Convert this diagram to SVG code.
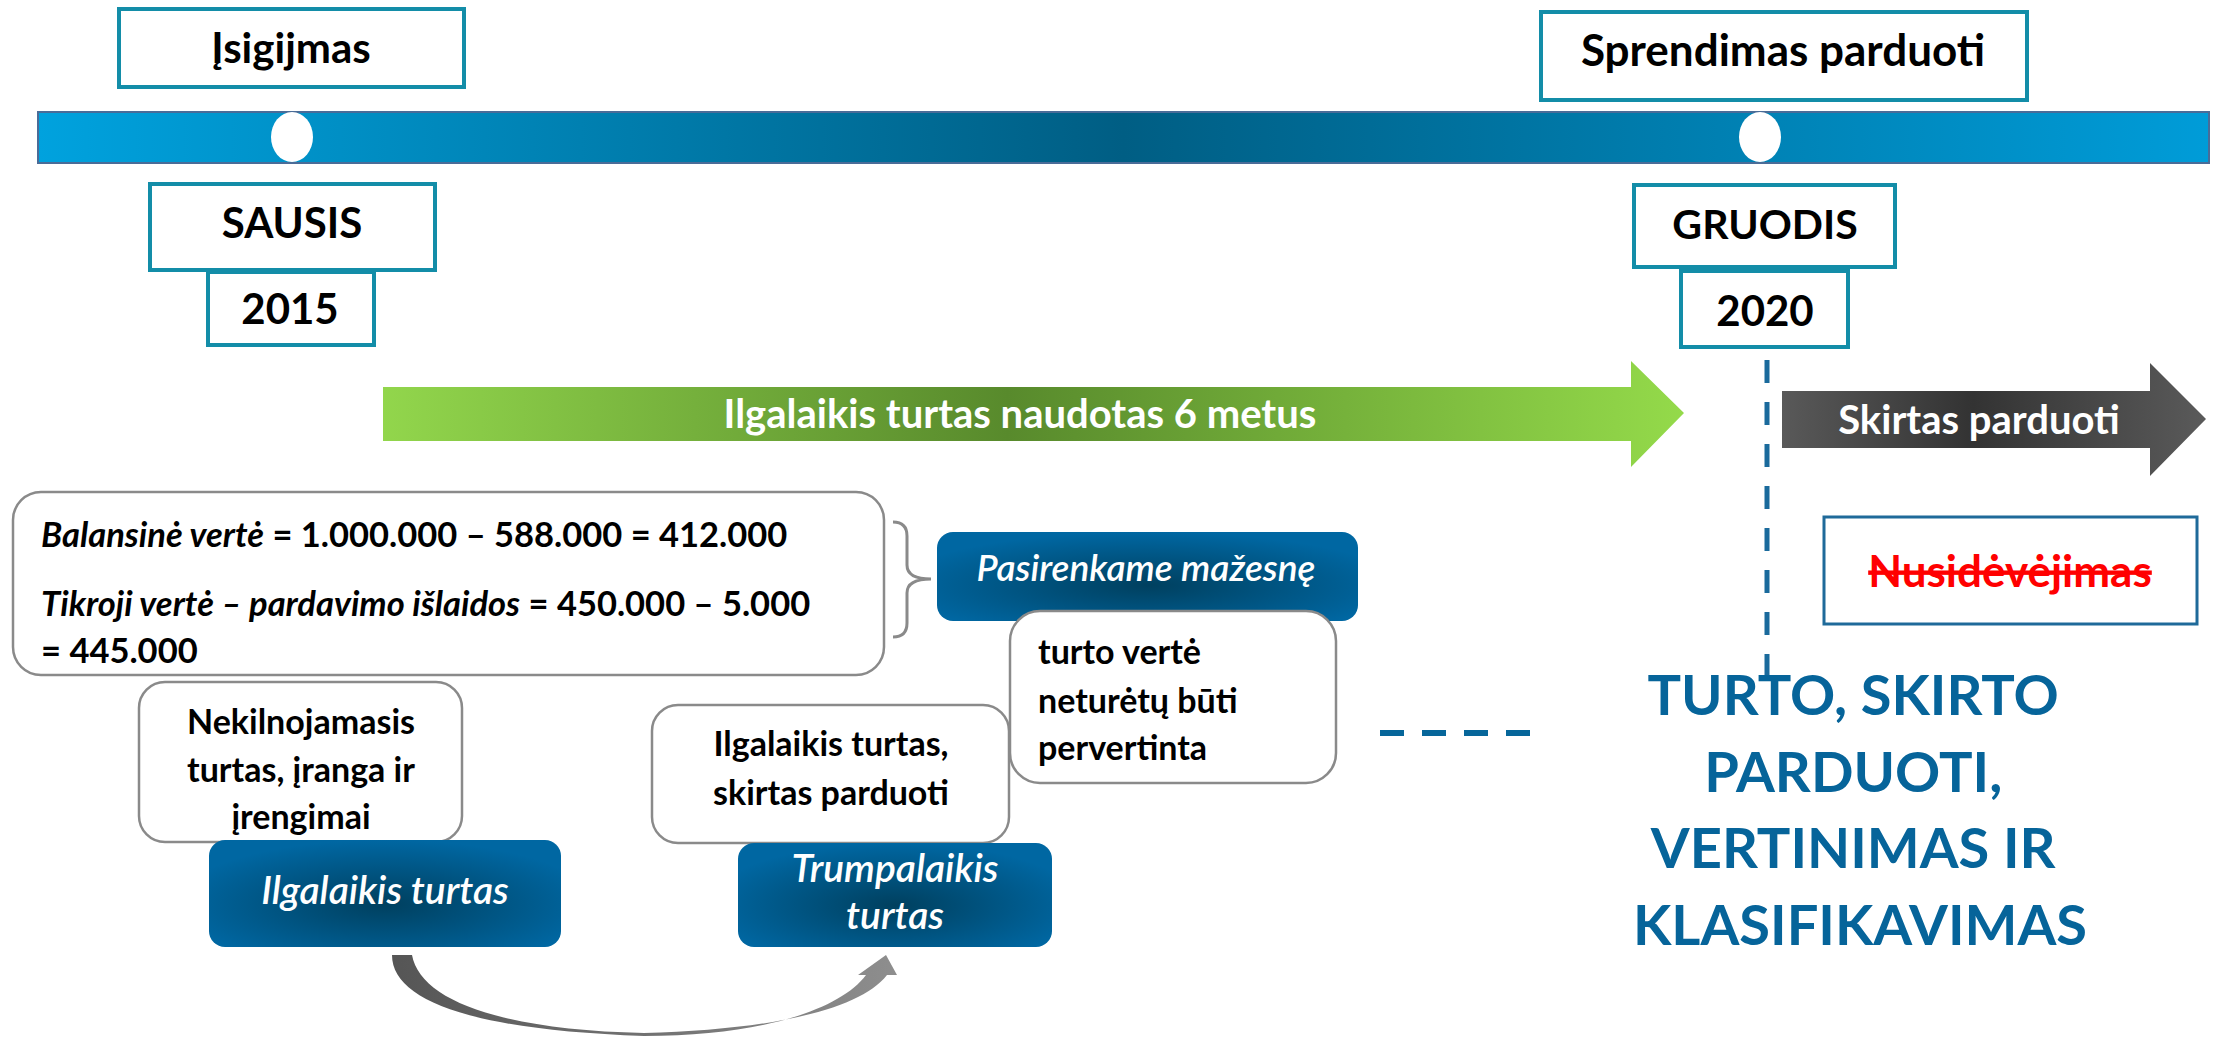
<svg xmlns="http://www.w3.org/2000/svg" width="2227" height="1038" viewBox="0 0 2227 1038">
<defs>
<linearGradient id="barG" x1="0" y1="0" x2="1" y2="0">
<stop offset="0" stop-color="#00A2DE"/>
<stop offset="0.5" stop-color="#005E84"/>
<stop offset="1" stop-color="#009CD8"/>
</linearGradient>
<linearGradient id="greenG" gradientUnits="userSpaceOnUse" x1="383" y1="0" x2="1684" y2="0">
<stop offset="0" stop-color="#92D64C"/>
<stop offset="0.48" stop-color="#588A2C"/>
<stop offset="1" stop-color="#94DA4A"/>
</linearGradient>
<linearGradient id="darkG" gradientUnits="userSpaceOnUse" x1="1782" y1="0" x2="2206" y2="0">
<stop offset="0" stop-color="#595959"/>
<stop offset="0.45" stop-color="#333333"/>
<stop offset="1" stop-color="#5a5a5a"/>
</linearGradient>
<radialGradient id="blueG" cx="0.5" cy="0.6" r="0.6">
<stop offset="0" stop-color="#00405F"/>
<stop offset="1" stop-color="#0067A2"/>
</radialGradient>
<linearGradient id="curveG" gradientUnits="userSpaceOnUse" x1="392" y1="0" x2="897" y2="0">
<stop offset="0" stop-color="#555555"/>
<stop offset="1" stop-color="#8E8E8E"/>
</linearGradient>
</defs>
<style>
.t{font-family:Lato,"Open Sans","Liberation Sans",sans-serif;font-weight:700;fill:#000}
.tl{stroke:#138DA8;stroke-width:4;fill:#fff}
.wb{fill:#fff;stroke:#8A8A8A;stroke-width:2.5}
.bb{fill:url(#blueG)}
.wi{font-family:Lato,"Open Sans","Liberation Sans",sans-serif;font-style:italic;font-weight:600;fill:#fff}
.c{text-anchor:middle}
</style>
<rect width="2227" height="1038" fill="#fff"/>

<g id="timeline">
<rect x="38" y="112" width="2171" height="51" fill="url(#barG)" stroke="#4A6C98" stroke-width="2"/>
<ellipse cx="292" cy="137" rx="21" ry="25" fill="#fff"/>
<ellipse cx="1760" cy="137" rx="21" ry="25" fill="#fff"/>
</g>

<g id="isigijmas"><rect class="tl" x="119" y="9" width="345" height="78"/><text class="t c" x="291" y="63" font-size="42">Įsigijmas</text></g>
<g id="sprendimas"><rect class="tl" x="1541" y="12" width="486" height="88"/><text class="t c" x="1783" y="66" font-size="44">Sprendimas parduoti</text></g>
<g id="sausis"><rect class="tl" x="150" y="184" width="285" height="86"/><text class="t c" x="292" y="238" font-size="42">SAUSIS</text></g>
<g id="y2015"><rect class="tl" x="208" y="272" width="166" height="73"/><text class="t c" x="290" y="324" font-size="42">2015</text></g>
<g id="gruodis"><rect class="tl" x="1634" y="185" width="261" height="82"/><text class="t c" x="1765" y="239" font-size="41">GRUODIS</text></g>
<g id="y2020"><rect class="tl" x="1681" y="271" width="167" height="76"/><text class="t c" x="1765" y="326" font-size="42">2020</text></g>

<g id="connectors">
<line x1="1767" y1="360" x2="1767" y2="675" stroke="#1A6A9C" stroke-width="5" stroke-dasharray="23 19"/>
<line x1="1380" y1="733" x2="1531" y2="733" stroke="#06669A" stroke-width="6" stroke-dasharray="24 18"/>
<path d="M392,955 C392,1000 470,1030 644,1036 C760,1036 840,1010 866,975 L858,975 L886,955 L897,975 L887,975 C860,1010 770,1030 644,1033 C500,1030 420,1000 412,955 Z" fill="url(#curveG)"/>
<path d="M893,522 Q907,522 907,536 L907,565 Q907,579 931,579 Q907,579 907,593 L907,623 Q907,637 893,637" fill="none" stroke="#8A8A8A" stroke-width="3"/>
</g>

<g id="green-arrow">
<polygon points="383,387 1631,387 1631,361 1684,413 1631,467 1631,441 383,441" fill="url(#greenG)"/>
<text class="c" x="1020" y="428" font-size="40" font-family="Lato,'Open Sans',sans-serif" font-weight="700" fill="#fff">Ilgalaikis turtas naudotas 6 metus</text>
</g>

<g id="skirtas-arrow">
<polygon points="1782,391 2150,391 2150,363 2206,419 2150,476 2150,448 1782,448" fill="url(#darkG)"/>
<text class="c" x="1979" y="434" font-size="40" font-family="Lato,'Open Sans',sans-serif" font-weight="700" fill="#fff">Skirtas parduoti</text>
</g>

<g id="nusidevejimas">
<rect x="1824" y="517" width="373" height="107" fill="#fff" stroke="#1F6A9A" stroke-width="3"/>
<text class="c" x="2010" y="587" font-size="44" font-family="Lato,'Open Sans',sans-serif" font-weight="700" fill="#FF0000" text-decoration="line-through">Nusidėvėjimas</text>
</g>

<g id="formula">
<rect class="wb" x="13" y="492" width="871" height="183" rx="28"/>
<text class="t" x="41" y="547" font-size="34.5"><tspan font-style="italic">Balansinė vertė</tspan> = 1.000.000 – 588.000 = 412.000</text>
<text class="t" x="41" y="616" font-size="34.5"><tspan font-style="italic">Tikroji vertė – pardavimo išlaidos</tspan> = 450.000 – 5.000</text>
<text class="t" x="41" y="663" font-size="34.5">= 445.000</text>
</g>

<g id="pasirenkame">
<rect class="bb" x="937" y="532" width="421" height="89" rx="16"/>
<text class="wi c" x="1146" y="581" font-size="37">Pasirenkame mažesnę</text>
</g>

<g id="turto-verte">
<rect class="wb" x="1010" y="611" width="326" height="172" rx="30"/>
<text class="t" x="1038" y="664" font-size="34">turto vertė</text>
<text class="t" x="1038" y="713" font-size="34">neturėtų būti</text>
<text class="t" x="1038" y="760" font-size="34">pervertinta</text>
</g>

<g id="nekilnojamasis">
<rect class="wb" x="139" y="682" width="323" height="160" rx="26"/>
<text class="t c" x="301" y="734" font-size="34">Nekilnojamasis</text>
<text class="t c" x="301" y="782" font-size="34">turtas, įranga ir</text>
<text class="t c" x="301" y="829" font-size="34">įrengimai</text>
</g>

<g id="ilgalaikis-turtas">
<rect class="bb" x="209" y="840" width="352" height="107" rx="16"/>
<text class="wi c" x="385" y="904" font-size="39">Ilgalaikis turtas</text>
</g>

<g id="skirtas-parduoti-box">
<rect class="wb" x="652" y="705" width="357" height="138" rx="26"/>
<text class="t c" x="831" y="756" font-size="34">Ilgalaikis turtas,</text>
<text class="t c" x="831" y="805" font-size="34">skirtas parduoti</text>
</g>

<g id="trumpalaikis">
<rect class="bb" x="738" y="843" width="314" height="104" rx="16"/>
<text class="wi c" x="895" y="882" font-size="39">Trumpalaikis</text>
<text class="wi c" x="895" y="929" font-size="39">turtas</text>
</g>

<g id="title">
<text class="c" font-family="Lato,'Open Sans',sans-serif" font-weight="700" fill="#06649A" font-size="56">
<tspan x="1860" y="715">TURTO, SKIRTO</tspan>
<tspan x="1860" y="792">PARDUOTI,</tspan>
<tspan x="1860" y="868">VERTINIMAS IR</tspan>
<tspan x="1860" y="945">KLASIFIKAVIMAS</tspan>
</text>
</g>
</svg>
